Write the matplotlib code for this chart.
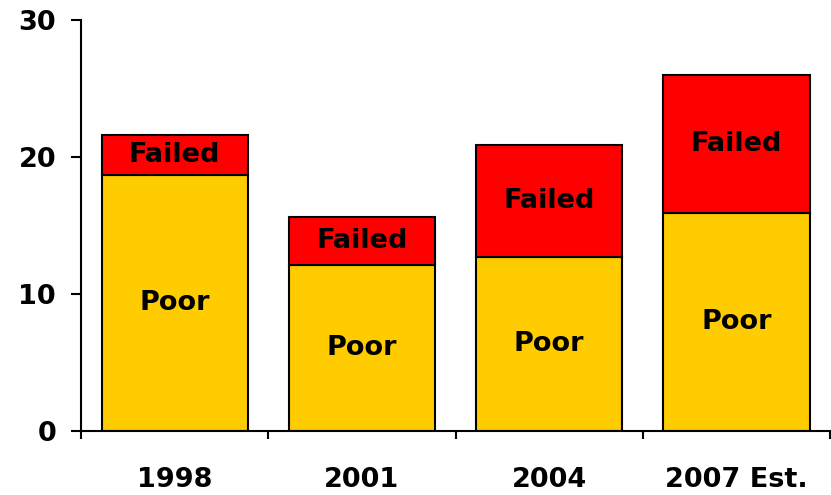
import numpy as np
import matplotlib.pyplot as plt

# Значения
years = ['1998', '2001', '2004', '2007 Est.']
poor = [18.7, 12.1, 12.7, 15.9]
failed = [2.9, 3.5, 8.2, 10.1]

x = np.arange(len(years))
bar_width = 0.78

fig = plt.figure(figsize=(8.31, 4.95), dpi=100)
ax = fig.add_axes([0.0975, 0.1293, 0.9015, 0.8303])

ax.bar(x, poor, width=bar_width, color='#FFCC00', edgecolor='black', linewidth=1.5)
ax.bar(x, failed, bottom=poor, width=bar_width, color='#FF0000', edgecolor='black', linewidth=1.5)

# Подписи сегментов
for i in range(len(years)):
    ax.text(x[i], poor[i] / 2, 'Poor', ha='center', va='center',
            fontsize=19.5, fontweight='bold')
    ax.text(x[i], poor[i] + failed[i] / 2, 'Failed', ha='center', va='center',
            fontsize=19.5, fontweight='bold')

ax.set_xlim(-0.5, 3.5)
ax.set_ylim(0, 30)
ax.set_yticks([0, 10, 20, 30])
ax.set_xticks(x)
ax.set_xticklabels(years)
ax.set_xticks(np.arange(-0.5, 4.0, 1.0), minor=True)

ax.tick_params(axis='x', which='major', length=0, pad=26, labelsize=19.5)
ax.tick_params(axis='x', which='minor', length=6, width=1.5, direction='out')
ax.tick_params(axis='y', length=7, width=1.5, pad=11, labelsize=19.5)
for lab in ax.get_xticklabels() + ax.get_yticklabels():
    lab.set_fontweight('bold')

ax.spines['top'].set_visible(False)
ax.spines['right'].set_visible(False)
ax.spines['left'].set_linewidth(1.5)
ax.spines['bottom'].set_linewidth(1.5)

fig.savefig('out.png', dpi=100)
